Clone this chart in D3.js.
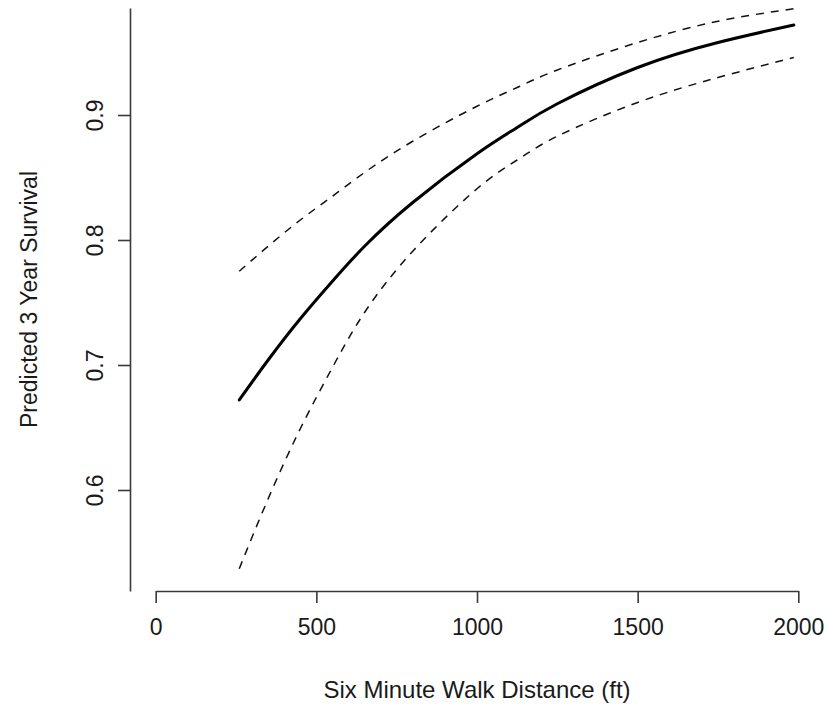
<!DOCTYPE html>
<html>
<head>
<meta charset="utf-8">
<script src="https://cdn.jsdelivr.net/npm/d3@7"></script>
<style>
  body { margin: 0; background: #fff; }
  svg { display: block; }
  text { font-family: "Liberation Sans", Arial, Helvetica, sans-serif; fill: #1a1a1a; }
</style>
</head>
<body>
<svg></svg>
<script>
var width = 828;
var height = 710;

var distance = [260, 350, 450, 550, 650, 800, 1000, 1125, 1250, 1500, 1750, 1986];
// predicted 3 year survival, point estimate
var survival = [0.672, 0.704, 0.737, 0.767, 0.795, 0.830, 0.869, 0.890, 0.909, 0.938, 0.958, 0.972];
// upper and lower confidence band
var upper = [0.775, 0.795, 0.816, 0.835, 0.854, 0.879, 0.907, 0.922, 0.936, 0.958, 0.975, 0.985];
var lower = [0.537, 0.593, 0.649, 0.698, 0.742, 0.791, 0.841, 0.864, 0.883, 0.910, 0.930, 0.946];

var x_ticks = [0, 500, 1000, 1500, 2000];
var y_ticks = [0.6, 0.7, 0.8, 0.9];

var x_title = "Six Minute Walk Distance (ft)";
var y_title = "Predicted 3 Year Survival";

var svg = d3.select("svg")
    .attr("width", width)
    .attr("height", height);

var x_scale = d3.scaleLinear()
    .domain([0, 2000])
    .range([155.7, 798.3]);

var y_scale = d3.scaleLinear()
    .domain([0.5192, 0.9856])
    .range([591, 8]);

var x_axis = d3.axisBottom(x_scale)
    .tickValues(x_ticks)
    .tickSize(12)
    .tickSizeOuter(0)
    .tickPadding(16)
    .tickFormat(d3.format("d"));

var y_axis = d3.axisLeft(y_scale)
    .tickValues(y_ticks)
    .tickSize(12)
    .tickSizeOuter(0)
    .tickFormat(d3.format(".1f"));

var gx = svg.append("g")
    .attr("class", "x axis")
    .attr("transform", "translate(0,591)")
    .call(x_axis);

var gy = svg.append("g")
    .attr("class", "y axis")
    .attr("transform", "translate(130,0)")
    .call(y_axis);

svg.selectAll(".axis path, .axis line")
    .attr("stroke", "#3a3a3a")
    .attr("stroke-width", 1.6);

gx.selectAll("text")
    .attr("font-size", 23)
    .attr("dy", "0.71em")
    .attr("fill", "#1a1a1a");

gy.selectAll(".tick text")
    .attr("font-size", 23)
    .attr("fill", "#1a1a1a")
    .attr("text-anchor", "middle")
    .attr("x", null)
    .attr("dy", null)
    .attr("transform", "translate(-27,0) rotate(-90)");

// axis titles
svg.append("text")
    .attr("x", x_scale(1000))
    .attr("y", 698)
    .attr("text-anchor", "middle")
    .attr("font-size", 24)
    .text(x_title);

svg.append("text")
    .attr("transform", "translate(37," + ((8 + 591) / 2) + ") rotate(-90)")
    .attr("text-anchor", "middle")
    .attr("font-size", 23)
    .text(y_title);

function make_line(values) {
    return d3.line()
        .x(function(d, i) { return x_scale(distance[i]); })
        .y(function(d) { return y_scale(d); })
        .curve(d3.curveNatural)(values);
}

svg.append("path")
    .attr("class", "band")
    .attr("d", make_line(upper))
    .attr("fill", "none")
    .attr("stroke", "#111")
    .attr("stroke-width", 1.5)
    .attr("stroke-dasharray", "8,7");

svg.append("path")
    .attr("class", "band")
    .attr("d", make_line(lower))
    .attr("fill", "none")
    .attr("stroke", "#111")
    .attr("stroke-width", 1.5)
    .attr("stroke-dasharray", "8,7");

svg.append("path")
    .attr("class", "line")
    .attr("d", make_line(survival))
    .attr("fill", "none")
    .attr("stroke", "#000")
    .attr("stroke-width", 3)
    .attr("stroke-linecap", "round");
</script>
</body>
</html>
